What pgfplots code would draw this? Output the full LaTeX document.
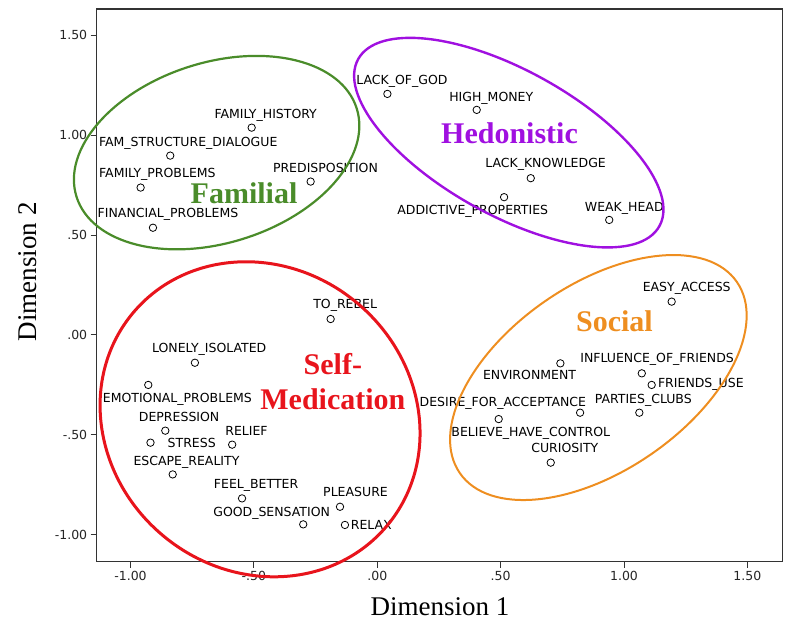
\documentclass[border=0pt]{standalone}
\usepackage{fontspec}
\setmainfont{Liberation Serif}
\newfontfamily\lab{DejaVu Sans}
\usepackage{pgfplots}
\pgfplotsset{compat=1.18}
\usepackage{pgfplotstable}

\definecolor{famgreen}{HTML}{4A8C2A}
\definecolor{hedpurple}{HTML}{A010E0}
\definecolor{medred}{HTML}{E8141C}
\definecolor{socorange}{HTML}{EE8E20}

\tikzset{
    lbl/.style={font=\lab\fontsize{12.5}{14}\selectfont, anchor=base, yshift=-4.5pt, inner sep=0pt},
    grp/.style={font=\bfseries\fontsize{30}{32}\selectfont, anchor=base, yshift=-10pt, inner sep=0pt},
}

% stimulus coordinates (Dimension 1, Dimension 2)
\pgfplotstableread{
x y
0.041 1.207
-0.509 1.038
-0.839 0.898
-0.959 0.738
-0.270 0.768
-0.909 0.537
-0.189 0.080
0.403 1.127
0.622 0.785
0.514 0.690
0.940 0.576
1.193 0.167
0.742 -0.142
1.072 -0.192
1.112 -0.250
1.062 -0.389
0.822 -0.389
0.492 -0.421
0.703 -0.639
-0.739 -0.139
-0.928 -0.250
-0.859 -0.479
-0.919 -0.539
-0.588 -0.549
-0.829 -0.698
-0.548 -0.818
-0.151 -0.860
-0.300 -0.948
-0.131 -0.951
}\stimuli

\begin{document}
\begin{tikzpicture}
\useasboundingbox (-96.7pt,-71.3pt) rectangle (691.3pt,561.7pt);
\begin{axis}[
    at={(0,0)}, anchor=south west,
    scale only axis,
    width=686pt, height=552.7pt,
    xmin=-1.137, xmax=1.643,
    ymin=-1.135, ymax=1.632,
    xtick={-1,-0.5,0,0.5,1,1.5},
    xticklabels={-1.00,-.50,.00,.50,1.00,1.50},
    ytick={-1,-0.5,0,0.5,1,1.5},
    yticklabels={-1.00,-.50,.00,.50,1.00,1.50},
    tick align=outside, tick pos=left,
    major tick length=6pt,
    axis line style={draw=black!80, line width=1.1pt},
    tick style={draw=black!80, line width=1pt},
    ticklabel style={font=\lab\fontsize{12.5}{14}\selectfont, text=black!85},
    xlabel={Dimension 1}, ylabel={Dimension 2},
    label style={font=\fontsize{27}{30}\selectfont},
    xlabel style={at={(axis description cs:0.5004,-0.09644)}, anchor=base},
    ylabel style={at={(axis description cs:-0.08746,0.5247)}, anchor=base},
    clip=false,
]
\addplot[only marks, mark=o, mark size=3.7pt, black, mark options={line width=0.8pt}] table {\stimuli};

% point labels
\node[lbl] at (axis cs:0.100,1.277) {LACK\_OF\_GOD};
\node[lbl] at (axis cs:-0.452,1.107) {FAMILY\_HISTORY};
\node[lbl] at (axis cs:-0.766,0.968) {FAM\_STRUCTURE\_DIALOGUE};
\node[lbl] at (axis cs:-0.891,0.810) {FAMILY\_PROBLEMS};
\node[lbl] at (axis cs:-0.210,0.835) {PREDISPOSITION};
\node[lbl] at (axis cs:-0.848,0.612) {FINANCIAL\_PROBLEMS};
\node[lbl] at (axis cs:-0.130,0.155) {TO\_REBEL};
\node[lbl] at (axis cs:0.462,1.193) {HIGH\_MONEY};
\node[lbl] at (axis cs:0.682,0.860) {LACK\_KNOWLEDGE};
\node[lbl] at (axis cs:0.387,0.626) {ADDICTIVE\_PROPERTIES};
\node[lbl] at (axis cs:1.001,0.642) {WEAK\_HEAD};
\node[lbl] at (axis cs:1.254,0.242) {EASY\_ACCESS};
\node[lbl] at (axis cs:1.134,-0.117) {INFLUENCE\_OF\_FRIENDS};
\node[lbl] at (axis cs:0.617,-0.200) {ENVIRONMENT};
\node[lbl, anchor=base west] at (axis cs:1.137,-0.239) {FRIENDS\_USE};
\node[lbl] at (axis cs:0.509,-0.334) {DESIRE\_FOR\_ACCEPTANCE};
\node[lbl] at (axis cs:1.078,-0.320) {PARTIES\_CLUBS};
\node[lbl] at (axis cs:0.622,-0.484) {BELIEVE\_HAVE\_CONTROL};
\node[lbl] at (axis cs:0.760,-0.567) {CURIOSITY};
\node[lbl] at (axis cs:-0.681,-0.067) {LONELY\_ISOLATED};
\node[lbl] at (axis cs:-0.810,-0.317) {EMOTIONAL\_PROBLEMS};
\node[lbl] at (axis cs:-0.803,-0.409) {DEPRESSION};
\node[lbl] at (axis cs:-0.530,-0.479) {RELIEF};
\node[lbl] at (axis cs:-0.752,-0.542) {STRESS};
\node[lbl] at (axis cs:-0.773,-0.631) {ESCAPE\_REALITY};
\node[lbl] at (axis cs:-0.491,-0.748) {FEEL\_BETTER};
\node[lbl] at (axis cs:-0.088,-0.788) {PLEASURE};
\node[lbl] at (axis cs:-0.428,-0.888) {GOOD\_SENSATION};
\node[lbl, anchor=base west] at (axis cs:-0.108,-0.951) {RELAX};

% group names
\node[grp, text=famgreen] at (axis cs:-0.540,0.710) {Familial};
\node[grp, text=hedpurple] at (axis cs:0.536,1.010) {Hedonistic};
\node[grp, text=socorange] at (axis cs:0.961,0.067) {Social};
\node[grp, text=medred] at (axis cs:-0.180,-0.150) {Self-};
\node[grp, text=medred] at (axis cs:-0.180,-0.322) {Medication};

% cluster ellipses
\draw[famgreen, line width=2.2pt, rotate around={17.5:(axis cs:-0.651,0.913)}]
    (axis cs:-0.651,0.913) ellipse [x radius=146.9pt, y radius=90.2pt];
\draw[hedpurple, line width=2.4pt, rotate around={-29:(axis cs:0.533,0.963)}]
    (axis cs:0.533,0.963) ellipse [x radius=172.2pt, y radius=72.4pt];
\draw[medred, line width=3pt, rotate around={-40:(axis cs:-0.475,-0.422)}]
    (axis cs:-0.475,-0.422) ellipse [x radius=165.7pt, y radius=151.5pt];
\draw[socorange, line width=2pt, rotate around={34.6:(axis cs:0.896,-0.213)}]
    (axis cs:0.896,-0.213) ellipse [x radius=168.3pt, y radius=93.1pt];
\end{axis}
\end{tikzpicture}
\end{document}
